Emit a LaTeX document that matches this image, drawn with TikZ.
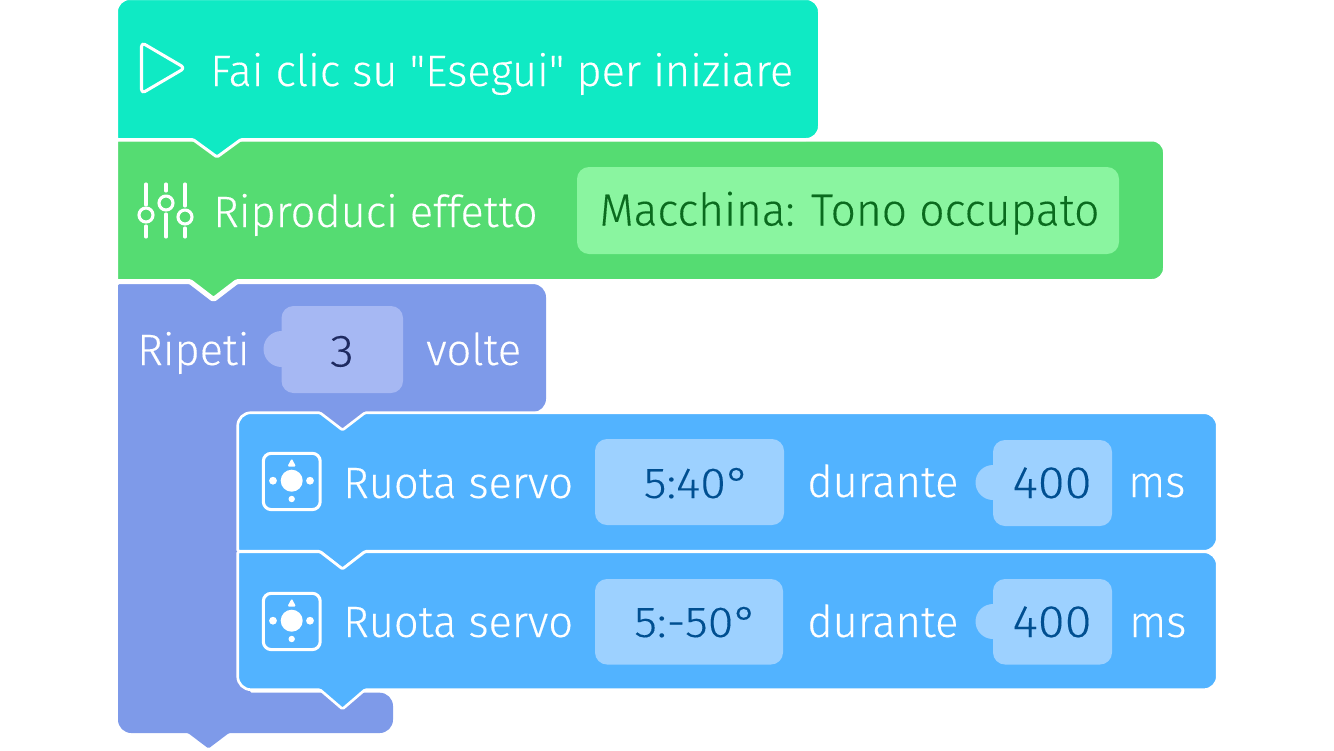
\documentclass[tikz,border=0pt]{standalone}
\usepackage{fontspec}
\newfontfamily\blockfont[FakeStretch=0.985,FakeBold=0.2]{Fira Sans Light}
\newfontfamily\numfont[FakeStretch=1.08,FakeBold=0.2]{Fira Sans Light}
\definecolor{startgreen}{HTML}{0FEAC4}
\definecolor{soundgreen}{HTML}{55DC72}
\definecolor{soundlight}{HTML}{8AF5A0}
\definecolor{sounddark}{HTML}{0A6B1E}
\definecolor{loopblue}{HTML}{7E9AE9}
\definecolor{looplight}{HTML}{A6B8F3}
\definecolor{loopdark}{HTML}{1E2A60}
\definecolor{servoblue}{HTML}{52B3FF}
\definecolor{servolight}{HTML}{9DD1FF}
\definecolor{servodark}{HTML}{004F91}
\tikzset{
  blocktext/.style={anchor=base west,inner sep=0pt,text=white,font=\blockfont\fontsize{33}{36}\selectfont},
  valuetext/.style={anchor=base,inner sep=0pt,font=\numfont\fontsize{34}{36}\selectfont},
  angletext/.style={valuetext,font=\numfont\fontsize{32.5}{36}\selectfont},
  fieldtext/.style={blocktext,anchor=base,font=\blockfont\fontsize{33.7}{36}\selectfont},
  iconline/.style={draw=white,line width=2.3pt,line cap=round,line join=round},
  tipcorner/.style={rounded corners=1pt},
  blockcorner/.style={rounded corners=10pt},
  blockshape/.style={draw=white,line join=round},
}
\newcommand{\servoicon}[1]{%
  \begin{scope}[yshift=#1*-0.75pt]
    \draw[iconline,rounded corners=6pt] (263.3,453.3) rectangle (320.2,509.6);
    \fill[white] (291.7,480.7) circle[radius=11];
    \fill[white] (273,480.7) circle[radius=3.9];
    \fill[white] (310,480.7) circle[radius=3.9];
    \fill[white] (291.7,499) circle[radius=3.2];
    \fill[white,rounded corners=1pt] (291.7,458.5) -- (296,466.5) -- (287.4,466.5) -- cycle;
  \end{scope}}
\begin{document}
\begin{tikzpicture}[x=0.75pt,y=-0.75pt]
   \useasboundingbox (0,0) rectangle (1334,750);
   % repeat block
   \fill[loopblue,blockcorner] (300,284) -- (546,284) -- (546,412) [tipcorner] -- (365,412)
      -- (342.5,430) -- (320,412) -- (250,412) -- (250,692.7)
      [blockcorner] -- (393,692.7) -- (393,733) [tipcorner] -- (229,733)
      -- (208.5,748.5) -- (188,733) [blockcorner] -- (118,733) [tipcorner] -- (118,284) -- cycle;
   % servo blocks
   \draw[blockshape,fill=servoblue,line width=2pt,blockcorner]
      (800,412.7) -- (1217.3,412.7) -- (1217.3,551.3) [tipcorner] -- (365,551.3)
      -- (342.5,569) -- (320,551.3) -- (237.7,551.3)
      [blockcorner] -- (237.7,412.7) [tipcorner]
      -- (320,412.7) -- (342.5,430) -- (365,412.7) [blockcorner] -- cycle;
   \draw[blockshape,fill=servoblue,line width=2pt,blockcorner]
      (800,551.7) -- (1217.3,551.7) -- (1217.3,689.7) [tipcorner] -- (365,689.7)
      -- (342.5,709) -- (320,689.7)
      [blockcorner] -- (237.7,689.7) [tipcorner] -- (237.7,551.7)
      -- (320,551.7) -- (342.5,569) -- (365,551.7) [blockcorner] -- cycle;
   % sound block
   \draw[blockshape,fill=soundgreen,line width=3.75pt,blockcorner]
      (600,139) -- (1165.5,139) -- (1165.5,281.5) [tipcorner] -- (237,281.5)
      -- (213.5,299.5) -- (190,281.5) -- (115.5,281.5) -- (115.5,139) -- cycle;
   % start block
   \draw[blockshape,fill=startgreen,line width=2.25pt,blockcorner]
      (400,-1.5) -- (819.5,-1.5) -- (819.5,139.5) [tipcorner] -- (241,139.5)
      -- (217,157) -- (193,139.5) -- (116.5,139.5)
      [blockcorner] -- (116.5,-1.5) -- cycle;
   % value fields
   \fill[soundlight,rounded corners=9pt] (577,167) rectangle (1119,254);
   \fill[looplight,rounded corners=9pt] (281.5,306) rectangle (403,393);
   \fill[looplight] (281.5,349) circle[radius=18];
   \fill[servolight,rounded corners=9pt] (595,439) rectangle (784,525);
   \fill[servolight,rounded corners=9pt] (993,440) rectangle (1112,526);
   \fill[servolight] (993,482.5) circle[radius=17.5];
   \fill[servolight,rounded corners=9pt] (595,579) rectangle (783,664.5);
   \fill[servolight,rounded corners=9pt] (993,579) rectangle (1112,664.5);
   \fill[servolight] (993,621.5) circle[radius=17.5];
   % icons
   \draw[iconline,rounded corners=3pt] (141.5,42.5) -- (185,68) -- (141.5,93.5) -- cycle;
   \draw[iconline] (146,184) -- (146,205) (146,226) -- (146,237);
   \draw[iconline] (166,184) -- (166,191) (166,214) -- (166,237);
   \draw[iconline] (185,184) -- (185,206) (185,228) -- (185,237);
   \draw[iconline] (146,215) circle[radius=7] (166,203) circle[radius=7] (185,217) circle[radius=7];
   \servoicon{0}
   \servoicon{140}
   % texts
   \node[blocktext] (start) at (210,86) {Fai clic su "Esegui" per iniziare};
   \node[blocktext] (sound) at (213,227) {Riproduci effetto};
   \node[fieldtext,text=sounddark] (soundval) at (849.5,225.5) {Macchina: Tono occupato};
   \node[blocktext] (repeat) at (137,365) {Ripeti};
   \node[valuetext,text=loopdark] (repeatval) at (342,366.5) {3};
   \node[blocktext] (times) at (426,365) {volte};
   \node[blocktext] (servoa) at (343,498) {Ruota servo};
   \node[angletext,text=servodark] (angleA) at (697,498) {5:40°};
   \node[blocktext] (durA) at (807,497) {durante};
   \node[valuetext,text=servodark] (timeA) at (1052,498) {400};
   \node[blocktext] (msA) at (1128,497) {ms};
   \node[blocktext] (servob) at (343,637) {Ruota servo};
   \node[angletext,text=servodark] (angleB) at (696,637) {5:-50°};
   \node[blocktext] (durB) at (807,637) {durante};
   \node[valuetext,text=servodark] (timeB) at (1052,637) {400};
   \node[blocktext] (msB) at (1129,637) {ms};
\end{tikzpicture}
\end{document}
